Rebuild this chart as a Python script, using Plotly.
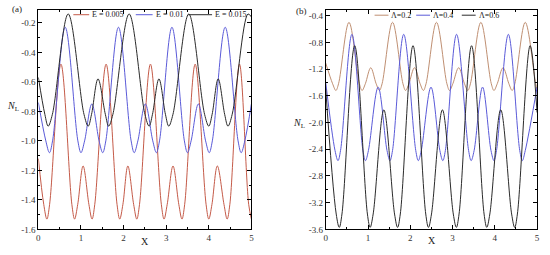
import plotly.graph_objects as go

# ---------------- panel (a) data ----------------
a_red_x = [0, 0.126, 0.20, 0.264, 0.53, 0.786, 0.85, 0.924, 1.05, 1.186, 1.26, 1.324, 1.59, 1.846, 1.91, 1.984,
           2.10, 2.236, 2.31, 2.374, 2.63, 2.886, 2.95, 3.024, 3.16, 3.296, 3.37, 3.434, 3.68, 3.936, 4.00, 4.074,
           4.20, 4.356, 4.43, 4.494, 4.72, 4.936, 5.0]
a_red_y = [-1.12, -1.43, -1.53, -1.43, -0.48, -1.43, -1.53, -1.43, -1.17, -1.43, -1.53, -1.43, -0.48, -1.43, -1.53, -1.43,
           -1.17, -1.43, -1.53, -1.43, -0.48, -1.43, -1.53, -1.43, -1.17, -1.43, -1.53, -1.43, -0.48, -1.43, -1.53, -1.43,
           -1.17, -1.43, -1.53, -1.43, -0.48, -1.43, -1.53]

a_blue_x = [0, 0.175, 0.26, 0.333, 0.63, 0.927, 1.00, 1.085, 1.255, 1.425, 1.51, 1.583, 1.88, 2.177, 2.25, 2.335,
            2.51, 2.685, 2.77, 2.843, 3.135, 3.427, 3.50, 3.585, 3.755, 3.925, 4.01, 4.083, 4.385, 4.687, 4.76, 4.845, 5.0]
a_blue_y = [-0.74, -1.00, -1.08, -1.00, -0.23, -1.00, -1.08, -1.00, -0.75, -1.00, -1.08, -1.00, -0.23, -1.00, -1.08, -1.00,
            -0.75, -1.00, -1.08, -1.00, -0.23, -1.00, -1.08, -1.00, -0.75, -1.00, -1.08, -1.00, -0.23, -1.00, -1.08, -1.00, -0.75]

a_black_x = [0, 0.152, 0.23, 0.329, 0.70, 1.071, 1.17, 1.248, 1.40, 1.572, 1.65, 1.749, 2.13, 2.501, 2.60, 2.678,
             2.83, 2.982, 3.06, 3.159, 3.53, 3.901, 4.00, 4.078, 4.22, 4.372, 4.45, 4.549, 4.92, 5.0]
a_black_y = [-0.57, -0.82, -0.90, -0.82, -0.14, -0.82, -0.90, -0.82, -0.58, -0.82, -0.90, -0.82, -0.14, -0.82, -0.90, -0.82,
             -0.58, -0.82, -0.90, -0.82, -0.14, -0.82, -0.90, -0.82, -0.58, -0.82, -0.90, -0.82, -0.14, -0.16]

a_names = ["E = 0.005", "E = 0.01", "E = 0.015"]

# ---------------- panel (b) data ----------------
b_or_x = [0, 0.163, 0.24, 0.303, 0.55, 0.797, 0.86, 0.937, 1.065, 1.193, 1.27, 1.333, 1.58, 1.827, 1.89, 1.967,
          2.10, 2.233, 2.31, 2.373, 2.62, 2.867, 2.93, 3.007, 3.145, 3.283, 3.36, 3.423, 3.67, 3.917, 3.98, 4.057,
          4.195, 4.333, 4.41, 4.473, 4.72, 4.967, 5.0]
b_or_y = [-1.11, -1.42, -1.52, -1.42, -0.50, -1.42, -1.52, -1.42, -1.18, -1.42, -1.52, -1.42, -0.50, -1.42, -1.52, -1.42,
          -1.18, -1.42, -1.52, -1.42, -0.50, -1.42, -1.52, -1.42, -1.18, -1.42, -1.52, -1.42, -0.50, -1.42, -1.52, -1.42,
          -1.18, -1.42, -1.52, -1.42, -0.50, -1.42, -1.50]

b_blue_x = [0, 0.22, 0.29, 0.35, 0.62, 0.88, 0.94, 1.01, 1.24, 1.45, 1.52, 1.58, 1.845, 2.13, 2.19, 2.26,
            2.49, 2.70, 2.77, 2.83, 3.095, 3.38, 3.44, 3.51, 3.71, 3.91, 3.98, 4.04, 4.32, 4.59, 4.65, 4.72, 5.0]
b_blue_y = [-1.40, -2.42, -2.57, -2.42, -0.68, -2.42, -2.57, -2.42, -1.47, -2.42, -2.57, -2.42, -0.68, -2.42, -2.57, -2.42,
            -1.47, -2.42, -2.57, -2.42, -0.68, -2.42, -2.57, -2.42, -1.47, -2.42, -2.57, -2.42, -0.68, -2.42, -2.57, -2.42, -1.47]

b_black_x = [0, 0.248, 0.32, 0.384, 0.685, 0.986, 1.05, 1.122, 1.375, 1.628, 1.70, 1.764, 2.065, 2.366, 2.43, 2.502,
             2.76, 3.018, 3.09, 3.154, 3.45, 3.746, 3.81, 3.882, 4.14, 4.398, 4.47, 4.534, 4.835, 5.0]
b_black_y = [-1.50, -3.37, -3.57, -3.37, -0.85, -3.37, -3.57, -3.37, -1.81, -3.37, -3.57, -3.37, -0.85, -3.37, -3.57, -3.37,
             -1.81, -3.37, -3.57, -3.37, -0.85, -3.37, -3.57, -3.37, -1.81, -3.37, -3.57, -3.37, -0.85, -1.85]

b_names = ["Λ=0.2", "Λ=0.4", "Λ=0.6"]

# ---------------- ticks ----------------
x_tickvals = [0, 1, 2, 3, 4, 5]
x_ticktext = ["0", "1", "2", "3", "4", "5"]
a_ytickvals = [-1.6, -1.4, -1.2, -1.0, -0.8, -0.6, -0.4, -0.2]
a_yticktext = ["-1.6", "-1.4", "-1.2", "-1.0", "-0.8", "-0.6", "-0.4", "-0.2"]
b_ytickvals = [-3.6, -3.2, -2.8, -2.4, -2.0, -1.6, -1.2, -0.8, -0.4]
b_yticktext = ["-3.6", "-3.2", "-2.8", "-2.4", "-2.0", "-1.6", "-1.2", "-0.8", "-0.4"]

C_RED = "#c45a48"
C_TAN = "#bf8f72"
C_BLUE = "#5a5ad8"
C_BLACK = "#2a2a2a"
FONT = "Liberation Serif"

fig = go.Figure()

def add(x, y, color, xa, ya):
    fig.add_trace(go.Scatter(x=x, y=y, mode="lines", xaxis=xa, yaxis=ya, showlegend=False,
                             line=dict(color=color, width=1, shape="spline", smoothing=1.0)))

add(a_red_x, a_red_y, C_RED, "x", "y")
add(a_blue_x, a_blue_y, C_BLUE, "x", "y")
add(a_black_x, a_black_y, C_BLACK, "x", "y")
add(b_or_x, b_or_y, C_TAN, "x2", "y2")
add(b_blue_x, b_blue_y, C_BLUE, "x2", "y2")
add(b_black_x, b_black_y, C_BLACK, "x2", "y2")

W, H = 550, 255
def px(x): return x / W
def py(y): return 1 - y / H

axis_common = dict(showline=True, linecolor="black", linewidth=1, mirror="ticks", ticks="inside",
                   ticklen=4, tickcolor="black", showgrid=False, zeroline=False,
                   tickfont=dict(family=FONT, size=9, color="#333"))

fig.update_layout(
    width=W, height=H, margin=dict(l=0, r=0, t=0, b=0),
    paper_bgcolor="white", plot_bgcolor="white",
    font=dict(family=FONT, size=9, color="#333"),
    xaxis=dict(domain=[px(36.7), px(251.7)], range=[0, 5], tickmode="array", tickvals=x_tickvals,
               ticktext=x_ticktext, anchor="y",
               minor=dict(ticks="inside", ticklen=2, dtick=0.5, tick0=0, tickcolor="black"), **axis_common),
    yaxis=dict(domain=[py(234), py(10.5)], range=[-1.6, -0.115], tickmode="array", tickvals=a_ytickvals,
               ticktext=a_yticktext, anchor="x",
               minor=dict(ticks="inside", ticklen=2, dtick=0.1, tick0=0, tickcolor="black"), **axis_common),
    xaxis2=dict(domain=[px(326.7), px(540)], range=[0, 5], tickmode="array", tickvals=x_tickvals,
                ticktext=x_ticktext, anchor="y2",
                minor=dict(ticks="inside", ticklen=2, dtick=0.5, tick0=0, tickcolor="black"), **axis_common),
    yaxis2=dict(domain=[py(234), py(10.5)], range=[-3.6, -0.32], tickmode="array", tickvals=b_ytickvals,
                ticktext=b_yticktext, anchor="x2",
                minor=dict(ticks="inside", ticklen=2, dtick=0.2, tick0=0, tickcolor="black"), **axis_common),
)

ann = []
def text(x, y, t, size=9, xanchor="center"):
    ann.append(dict(x=px(x), y=py(y), xref="paper", yref="paper", text=t, showarrow=False,
                    xanchor=xanchor, yanchor="middle", font=dict(family=FONT, size=size, color="#222")))

text(15, 9, "(a)", 9)
text(302, 11, "(b)", 9)
text(11, 109, "<i>N</i><sub>L</sub>", 10)
text(300, 126, "<i>N</i><sub>L</sub>", 10)
text(144, 246, "X", 10)
text(434, 245, "X", 10)

shapes = []
def leg(x0, x1, tx, y, color, label):
    shapes.append(dict(type="line", xref="paper", yref="paper", x0=px(x0), x1=px(x1), y0=py(y), y1=py(y),
                       line=dict(color=color, width=1)))
    text(tx, y, label, 8, "left")

leg(72, 88, 89, 15, C_RED, a_names[0])
leg(135, 152, 153, 15, C_BLUE, a_names[1])
leg(188, 212, 213, 15, C_BLACK, a_names[2])
leg(376, 390, 391, 15.5, C_TAN, b_names[0])
leg(418, 432, 433, 15.5, C_BLUE, b_names[1])
leg(464, 478, 479, 15.5, C_BLACK, b_names[2])

fig.update_layout(annotations=ann, shapes=shapes)
fig.write_html("out.html", config={"displayModeBar": False, "staticPlot": True},
               post_script="document.body.style.margin='0';document.body.style.overflow='hidden';")
